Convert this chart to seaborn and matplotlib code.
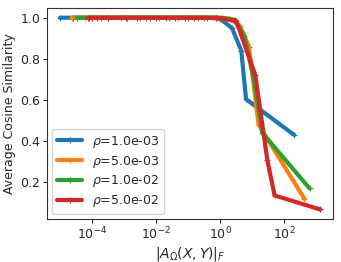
import numpy as np
import pandas as pd
import matplotlib
matplotlib.use("Agg")
import matplotlib.pyplot as plt
import seaborn as sns

labels = [r"$\rho$=1.0e-03", r"$\rho$=5.0e-03", r"$\rho$=1.0e-02", r"$\rho$=5.0e-02"]

# log10 of |A_Omega(X,Y)|_F per series
logx_1 = [-4.99, -4.6, -4.1, -3.5, -2.9, -2.2, -1.6, -1.0, -0.4, 0.0, 0.37, 0.66, 0.81, 2.31]
sim_1 = [1.0, 1.0, 1.0, 1.0, 1.0, 1.0, 1.0, 1.0, 1.0, 0.995, 0.95, 0.84, 0.604, 0.43]

logx_2 = [-4.63, -4.2, -3.7, -3.1, -2.5, -1.9, -1.3, -0.7, -0.1, 0.3, 0.62, 0.9, 1.2, 2.63]
sim_2 = [1.0, 1.0, 1.0, 1.0, 1.0, 1.0, 1.0, 1.0, 1.0, 0.995, 0.96, 0.86, 0.48, 0.12]

logx_3 = [-4.47, -4.0, -3.5, -2.9, -2.3, -1.7, -1.1, -0.5, 0.05, 0.45, 0.76, 1.05, 1.32, 2.79]
sim_3 = [1.0, 1.0, 1.0, 1.0, 1.0, 1.0, 1.0, 1.0, 1.0, 0.99, 0.91, 0.7, 0.44, 0.17]

logx_4 = [-4.12, -3.99, -3.84, -3.5, -2.94, -2.59, -2.0, -1.4, -0.8, -0.14, 0.5, 1.1, 1.47, 1.70, 3.12]
sim_4 = [1.0, 1.0, 1.0, 1.0, 1.0, 1.0, 1.0, 1.0, 1.0, 1.0, 0.985, 0.72, 0.31, 0.136, 0.068]

frames = []
for lab, lx, s in zip(labels, [logx_1, logx_2, logx_3, logx_4], [sim_1, sim_2, sim_3, sim_4]):
    frames.append(pd.DataFrame({"norm": 10.0 ** np.array(lx), "sim": s, "rho": lab}))
df = pd.concat(frames, ignore_index=True)

sns.set_style("white")
plt.rcParams['font.family'] = ['DejaVu Sans']

fig = plt.figure(figsize=(3.41, 2.62), dpi=100)
ax = fig.add_axes([0.138, 0.164, 0.839, 0.805])
sns.lineplot(data=df, x="norm", y="sim", hue="rho", palette="tab10", marker="+",
             markersize=4, markeredgewidth=0.8, linewidth=3, sort=False,
             estimator=None, ax=ax)
for line in ax.lines:
    line.set_markeredgecolor(line.get_color())
ax.set_xscale("log")
ax.set_xlabel(r"$|A_{\Omega}(X,Y)|_F$", fontsize=10, labelpad=2)
ax.set_ylabel("Average Cosine Similarity", fontsize=9, labelpad=3)
ax.tick_params(labelsize=9, length=3, pad=2, bottom=True, left=True)
ax.set_yticks([0.2, 0.4, 0.6, 0.8, 1.0])
for s in ax.spines.values():
    s.set_color("#333333")
leg = ax.legend(loc="lower left", fontsize=9, title=None, handlelength=2.0,
                labelspacing=0.3, borderaxespad=0.4)
for h in leg.legend_handles:
    h.set_markeredgecolor(h.get_color())
fig.savefig("out.png", dpi=100)
